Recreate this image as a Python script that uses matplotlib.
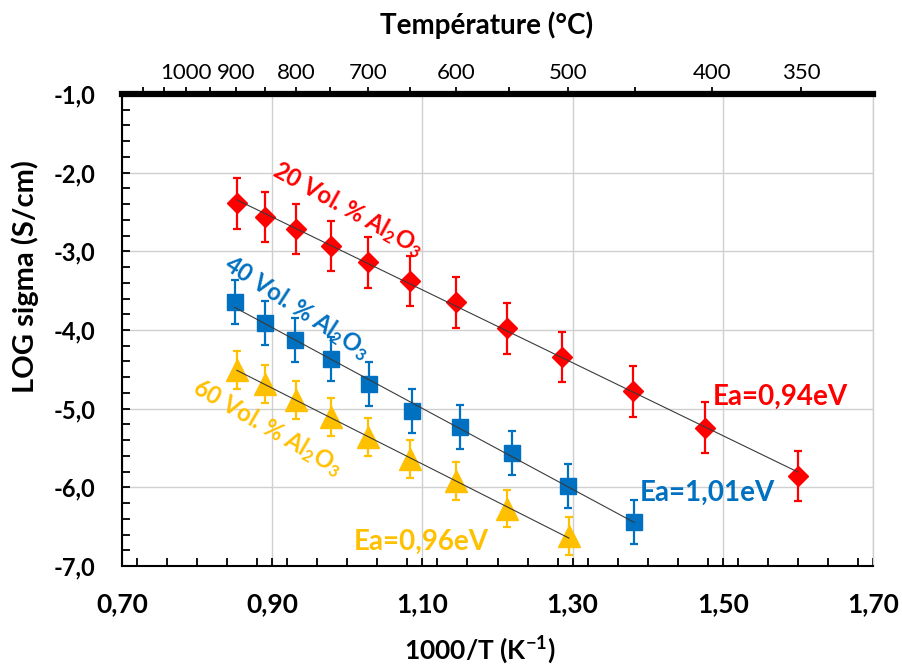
import numpy as np
import matplotlib.pyplot as plt
from matplotlib.ticker import MultipleLocator

plt.rcParams['font.family'] = ['Lato', 'DejaVu Sans']
plt.rcParams['mathtext.fontset'] = 'custom'
plt.rcParams['mathtext.rm'] = 'Lato:bold'
plt.rcParams['mathtext.it'] = 'Lato:bold:italic'
plt.rcParams['mathtext.bf'] = 'Lato:bold'
plt.rcParams['mathtext.default'] = 'rm'
plt.rcParams['axes.unicode_minus'] = False

# data (1000/T in K^-1, log sigma in S/cm)
x20 = [0.853, 0.891, 0.932, 0.978, 1.028, 1.083, 1.145, 1.213, 1.286, 1.381, 1.476, 1.600]
y20 = [-2.39, -2.56, -2.72, -2.93, -3.14, -3.38, -3.65, -3.98, -4.34, -4.78, -5.24, -5.86]
x40 = [0.850, 0.890, 0.931, 0.978, 1.029, 1.086, 1.150, 1.219, 1.294, 1.382]
y40 = [-3.65, -3.91, -4.13, -4.37, -4.69, -5.03, -5.23, -5.56, -5.98, -6.44]
x60 = [0.853, 0.891, 0.932, 0.978, 1.027, 1.083, 1.145, 1.213, 1.295]
y60 = [-4.51, -4.69, -4.89, -5.11, -5.36, -5.64, -5.92, -6.27, -6.62]
err20, err40, err60 = 0.32, 0.28, 0.24

labels = ['20 Vol. % Al$_2$O$_3$', '40 Vol. % Al$_2$O$_3$', '60 Vol. % Al$_2$O$_3$']
ea_labels = ['Ea=0,94eV', 'Ea=1,01eV', 'Ea=0,96eV']

# top axis: temperatures in degC
top_temps = [1100, 1050, 1000, 950, 900, 850, 800, 750, 700, 650, 600, 550, 500, 450, 400, 350]
top_labeled = [1000, 900, 800, 700, 600, 500, 400, 350]

red, blue, yellow = '#FF0000', '#0070C0', '#FFC000'

fig = plt.figure(figsize=(9.03, 6.69), dpi=100)
ax = fig.add_axes([0.1351, 0.154, 0.8317, 0.7055])

series = [(x20, y20, err20, 'D', 10, red),
          (x40, y40, err40, 's', 12, blue),
          (x60, y60, err60, '^', 16.5, yellow)]
for x, y, e, m, ms, c in series:
    ax.errorbar(x, y, yerr=e, fmt=m, ms=ms, color=c, mec=c, elinewidth=1.6,
                capsize=3, capthick=1.6, zorder=3)
    p = np.polyfit(x, y, 1)
    xs = np.array([min(x), max(x)])
    ax.plot(xs, np.polyval(p, xs), color='#3a3a3a', lw=0.8, zorder=4)

ax.set_xlim(0.70, 1.70)
ax.set_ylim(-7.0, -1.0)
ax.set_xticks(np.arange(0.70, 1.71, 0.20))
ax.set_xticklabels([f'{v:.2f}'.replace('.', ',') for v in np.arange(0.70, 1.71, 0.20)])
ax.xaxis.set_minor_locator(MultipleLocator(0.04))
ax.set_yticks(np.arange(-7.0, -0.99, 1.0))
ax.set_yticklabels([f'{v:.1f}'.replace('.', ',') for v in np.arange(-7.0, -0.99, 1.0)])
ax.yaxis.set_minor_locator(MultipleLocator(0.2))

ax.grid(True, which='major', color='#d0d0d0', lw=1)
ax.set_axisbelow(True)
ax.tick_params(axis='both', which='both', direction='in', length=6, width=1.3, color='black')
ax.tick_params(axis='x', which='major', labelsize=19, pad=19)
ax.tick_params(axis='y', which='major', labelsize=17, pad=19)
for lab in ax.get_xticklabels() + ax.get_yticklabels():
    lab.set_fontweight('bold')

ax.spines['left'].set_linewidth(1.5)
ax.spines['bottom'].set_linewidth(1.5)
ax.spines['right'].set_color('#d0d0d0')
ax.spines['right'].set_linewidth(1)
ax.spines['top'].set_visible(False)

ax2 = ax.twiny()
ax2.set_xlim(ax.get_xlim())
ax2.set_xticks([1000 / (t + 273.15) for t in top_temps])
ax2.set_xticklabels([str(t) if t in top_labeled else '' for t in top_temps])
ax2.tick_params(axis='x', direction='out', length=5, width=1.3, labelsize=16, pad=3)
for s in ['left', 'right', 'bottom']:
    ax2.spines[s].set_visible(False)
ax2.spines['top'].set_linewidth(4.5)

# curve labels
ax.text(1.001, -2.46, labels[0], color=red, fontsize=17, fontweight='bold',
        rotation=-29, rotation_mode='anchor', ha='center', va='center')
ax.text(0.933, -3.71, labels[1], color=blue, fontsize=17, fontweight='bold',
        rotation=-33, rotation_mode='anchor', ha='center', va='center')
ax.text(0.894, -5.24, labels[2], color=yellow, fontsize=17, fontweight='bold',
        rotation=-30, rotation_mode='anchor', ha='center', va='center')
ax.text(1.576, -4.85, ea_labels[0], color=red, fontsize=20, fontweight='bold',
        ha='center', va='center')
ax.text(1.480, -6.07, ea_labels[1], color=blue, fontsize=20, fontweight='bold',
        ha='center', va='center')
ax.text(1.099, -6.69, ea_labels[2], color=yellow, fontsize=20, fontweight='bold',
        ha='center', va='center')

fig.text(487 / 903, 1 - 25 / 669, 'Température (°C)', ha='center', va='center',
         fontsize=20, fontweight='bold')
fig.text(480 / 903, 1 - 650 / 669, '1000/T (K$^{-1}$)', ha='center', va='center',
         fontsize=19, fontweight='bold')
fig.text(25 / 903, 1 - 277 / 669, 'LOG sigma (S/cm)', rotation=90, ha='center',
         va='center', fontsize=21, fontweight='bold')

fig.savefig('out.png', dpi=100)
